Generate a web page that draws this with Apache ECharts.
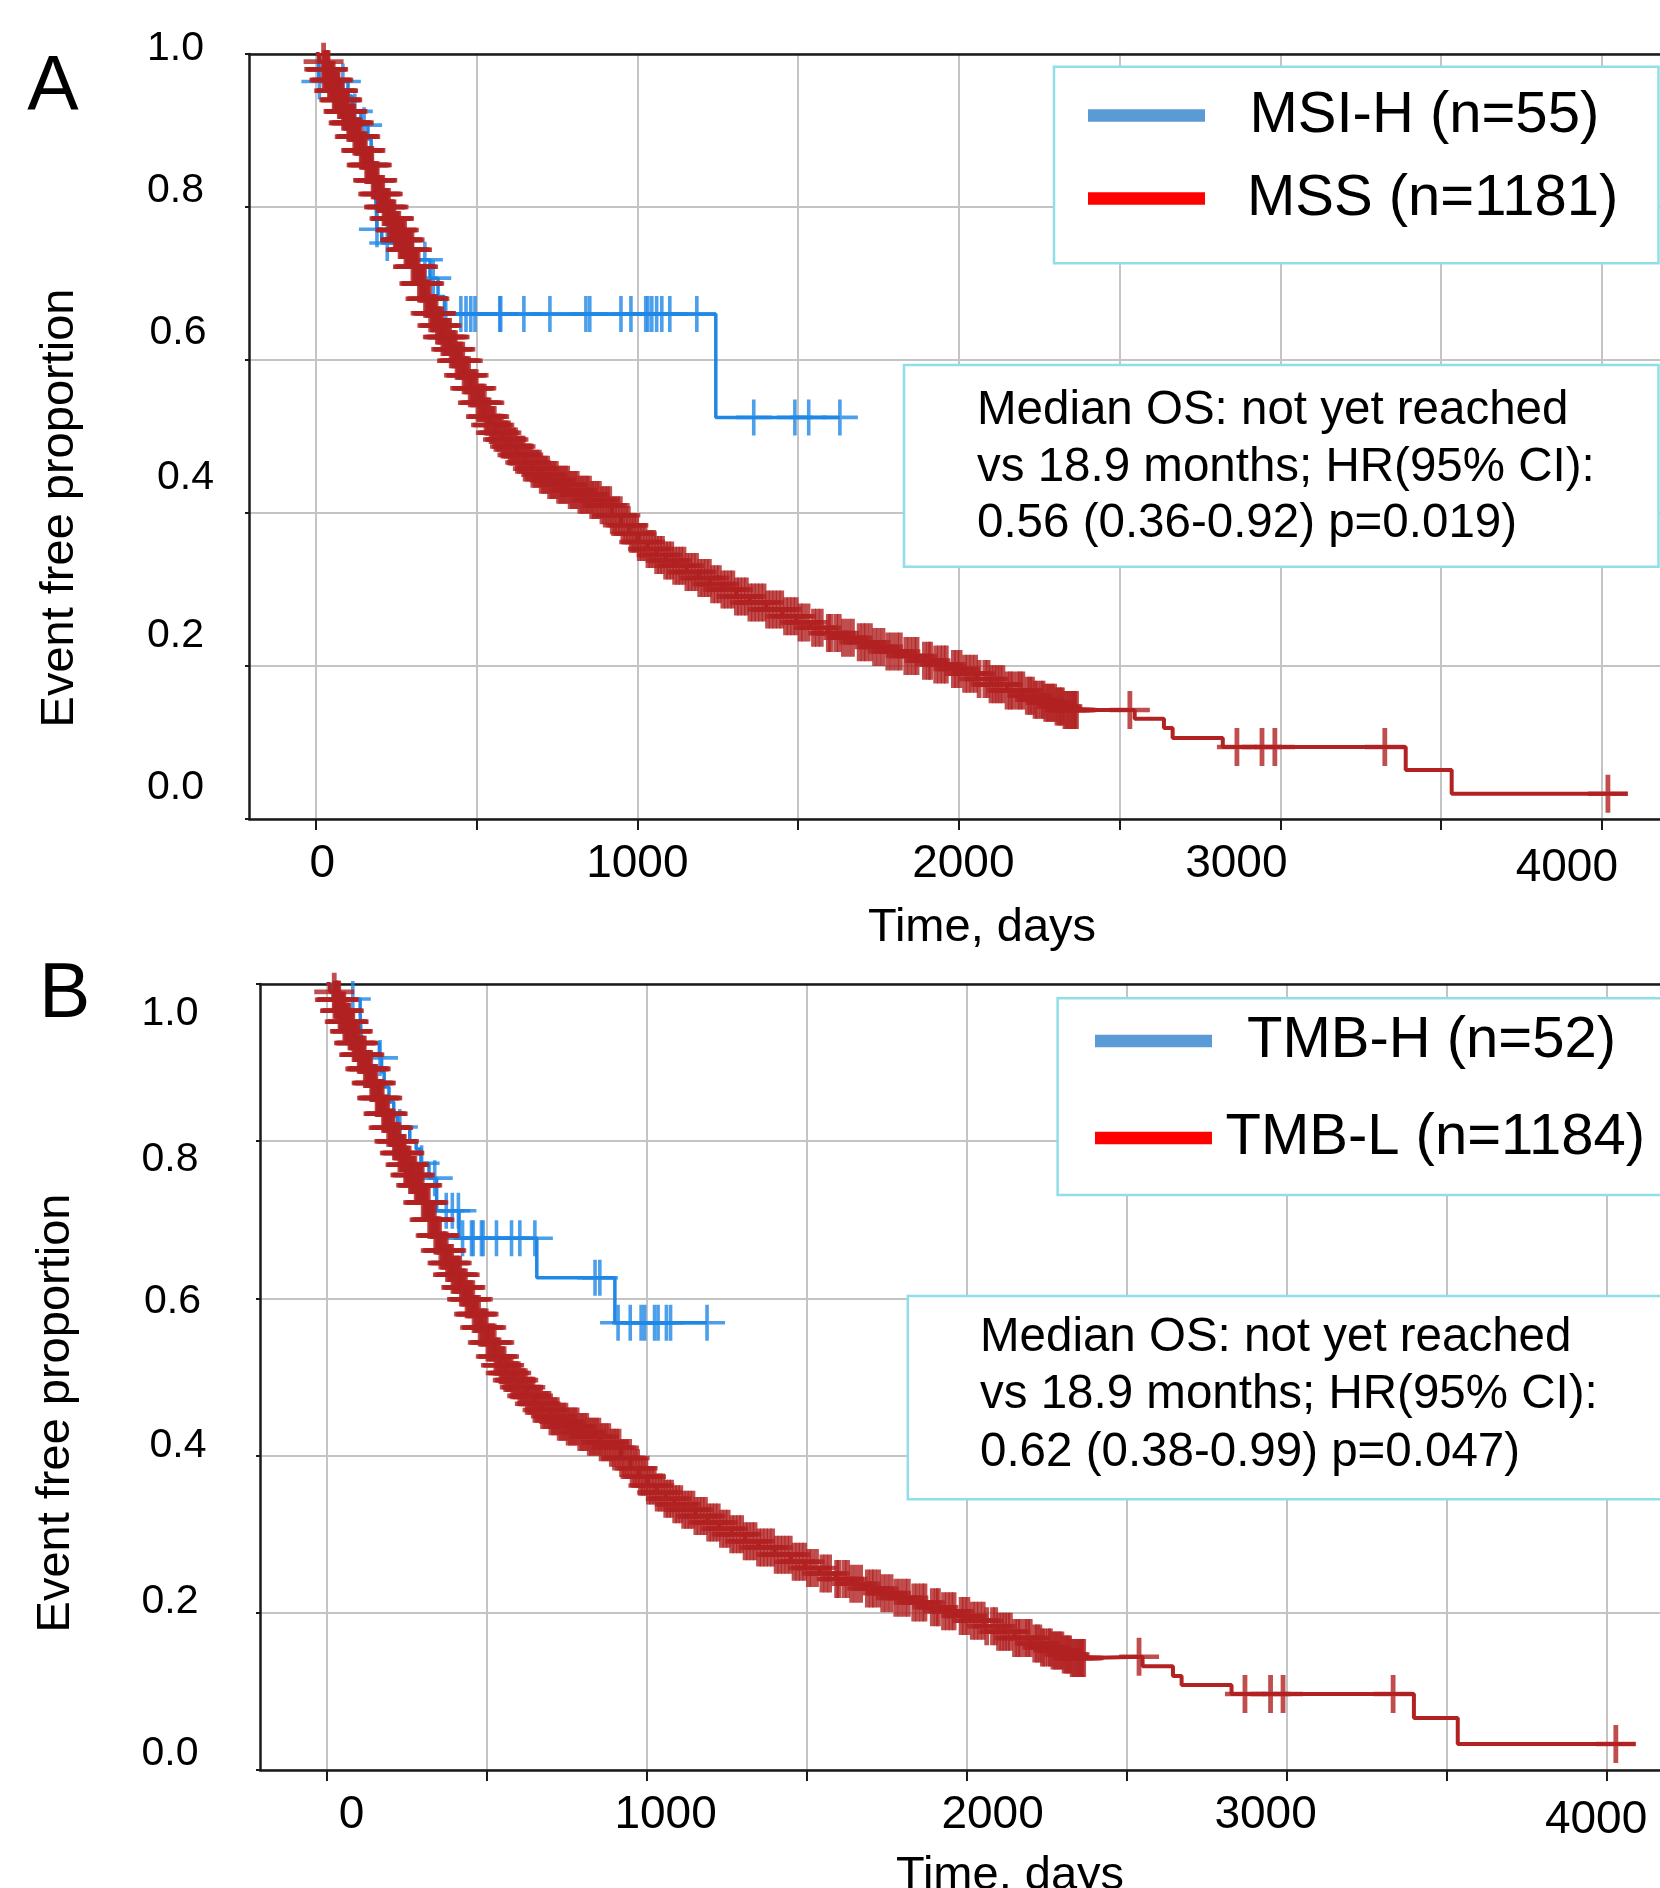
<!DOCTYPE html>
<html><head><meta charset="utf-8">
<script src="https://cdn.jsdelivr.net/npm/echarts@6/dist/echarts.min.js"></script>
<style>html,body{margin:0;padding:0;background:#fff}#c{width:1660px;height:1888px}</style>
</head><body><div id="c"></div>
<script>
// ---------------- DATA ----------------
const xTickDays  = [0, 500, 1000, 1500, 2000, 2500, 3000, 3500, 4000];
const xLabelDays = [0, 1000, 2000, 3000, 4000];

// Kaplan-Meier steps [day, event-free proportion] of the large group (dense part, same look in A and B)
const bandSteps = [[0,1.0],[10,0.99],[25,0.98],[40,0.966],[55,0.952],[70,0.94],[85,0.925],[100,0.91],[120,0.892],[141,0.874],[158,0.855],[175,0.835],[193,0.817],[211,0.80],[228,0.785],[245,0.77],[262,0.757],[280,0.744],[300,0.722],[320,0.70],[338,0.68],[355,0.661],[375,0.645],[395,0.63],[417,0.614],[439,0.599],[460,0.58],[480,0.563],[503,0.544],[525,0.526],[543,0.515],[560,0.505],[580,0.496],[600,0.487],[625,0.476],[650,0.466],[675,0.458],[700,0.45],[727,0.443],[754,0.437],[787,0.43],[820,0.424],[855,0.417],[889,0.41],[920,0.397],[950,0.384],[976,0.373],[1002,0.362],[1031,0.353],[1060,0.345],[1087,0.338],[1114,0.331],[1152,0.323],[1190,0.315],[1227,0.307],[1264,0.30],[1307,0.291],[1350,0.283],[1400,0.274],[1452,0.265],[1496,0.257],[1540,0.25],[1590,0.243],[1639,0.237],[1684,0.231],[1730,0.225],[1778,0.219],[1826,0.213],[1873,0.207],[1920,0.202],[1966,0.196],[2013,0.19],[2056,0.183],[2100,0.176],[2150,0.168],[2200,0.161],[2235,0.156],[2270,0.152],[2300,0.147],[2330,0.1425]];
const mssTailSteps  = [[2547,0.131],[2638,0.119],[2665,0.106],[2821,0.094],[3390,0.064],[3533,0.033],[4080,0.033]];
const tmblTailSteps = [[2373,0.144],[2550,0.132],[2645,0.1196],[2672,0.108],[2828,0.0967],[3398,0.066],[3535,0.033],[4090,0.033]];

// censored days of the large group (dense band)
const bandCensorDays = [26,33,38,45,51,57,64,69,76,82,89,95,102,108,115,121,128,134,141,147,154,161,167,174,181,188,194,201,208,215,222,229,236,243,250,258,265,272,280,287,295,302,310,318,326,333,341,349,357,366,374,382,391,399,408,416,425,434,443,452,461,470,480,489,499,509,519,529,539,550,560,571,582,593,604,615,627,639,651,663,675,688,701,714,727,741,755,769,783,798,813,828,843,858,874,890,906,922,938,955,972,989,1006,1024,1042,1060,1078,1097,1116,1135,1154,1174,1194,1214,1234,1255,1276,1297,1318,1339,1361,1383,1405,1427,1449,1472,1494,1517,1531,1560,1572,1601,1628,1641,1669,1690,1712,1738,1751,1779,1806,1818,1847,1870,1893,1912,1940,1961,1983,2004,2018,2040,2063,2081,2100,2119,2137,2150,2168,2182,2199,2213,2229,2244,2256,2270,2284,2298,2311,2322,2336,2349,2357,2366];
const bandCensorDaysMore = [24,30,36,42,48,54,60,67,73,79,86,92,98,105,112,118,125,131,138,144,151,158,164,171,178,185,191,198,205,212,219,226,233,240,247,254,262,269,276,284,291,299,306,314,322,330,337,345,353,362,370,378,387,395,404,412,421,430,439,448,457,466,475,485,494,504,514,524,534,545,555,566,577,588,599,610,621,633,645,657,669,682,695,708,721,734,748,762,776,791,806,821,836,851,866,882,898,914,930,947,964,981,998,1015,1033,1051,1069,1088,1107,1126,1145,1164,1184,1204,1224,1245,1266,1287,1308,1329,1350,1372,1394,1416,1438,1461,1483,1506,1548,1594,1617,1655,1702,1725,1764,1792,1835,1860,1905,1928,1951,1993,2029,2052,2091,2110,2128,2160,2191,2221,2237,2262,2277,2291,2305,2318,2330,2344,2361];
const mssTailCensorDays  = [2532,2865,2943,2983,3325,4019];
const tmblTailCensorDays = [2539,2870,2950,2989,3333,4029];

// MSI-H (n=55)
const msiSteps = [[0,1.0],[8,0.982],[10,0.964],[100,0.945],[112,0.925],[140,0.907],[162,0.889],[172,0.87],[178,0.851],[183,0.832],[186,0.813],[188,0.794],[190,0.771],[205,0.753],[300,0.731],[355,0.707],[380,0.683],[400,0.66],[1244,0.525],[1630,0.525]];
const msiCensorDays = [11,84,121,150,190,222,339,365,404,451,467,482,495,572,575,647,728,840,852,949,980,1026,1033,1045,1060,1076,1101,1185,1362,1490,1533,1630];

// TMB-H (n=52)
const tmbhSteps = [[0,1.0],[20,0.981],[105,0.962],[109,0.925],[165,0.906],[172,0.888],[180,0.869],[195,0.85],[210,0.832],[222,0.818],[260,0.8],[280,0.79],[295,0.772],[320,0.753],[344,0.7115],[414,0.6765],[657,0.6263],[901,0.569],[1189,0.569]];
const tmbhCensorDays = [31,82,167,229,297,338,374,393,412,425,453,458,484,489,531,578,604,651,839,854,911,949,983,994,1025,1036,1062,1075,1189];

const mssSteps  = bandSteps.concat(mssTailSteps);
const tmblSteps = bandSteps.concat(tmblTailSteps);
const mssCensorDays  = bandCensorDays.concat(bandCensorDaysMore, mssTailCensorDays);
const tmblCensorDays = bandCensorDays.concat(bandCensorDaysMore, tmblTailCensorDays);

const namesA = ['MSI-H (n=55)', 'MSS (n=1181)'];
const namesB = ['TMB-H (n=52)', 'TMB-L (n=1184)'];
const noteA = ['Median OS: not yet reached', 'vs 18.9 months; HR(95% CI):', '0.56 (0.36-0.92) p=0.019)'];
const noteB = ['Median OS: not yet reached', 'vs 18.9 months; HR(95% CI):', '0.62 (0.38-0.99) p=0.047)'];

// ---------------- helpers ----------------
function survAt(steps, t) { let s = steps[0][1]; for (const p of steps) { if (p[0] <= t) s = p[1]; else break; } return s; }
function censorPoints(steps, days) { return days.map(d => [d, survAt(steps, d)]); }

const FONT = "'Liberation Sans', Arial, Helvetica, sans-serif";
const BLUE = '#1f87e5', RED = '#b22222';
const PLUS = 'path://M-1,-10L1,-10L1,-1L10,-1L10,1L1,1L1,10L-1,10L-1,1L-10,1L-10,-1L-1,-1Z';
const PLUS_RED = 'path://M-1.2,-10L1.2,-10L1.2,-1.2L10,-1.2L10,1.2L1.2,1.2L1.2,10L-1.2,10L-1.2,1.2L-10,1.2L-10,-1.2L-1.2,-1.2Z';
const AXC = '#1a1a1a', GRIDC = '#c4c4c4';

function rich(map, size) { const r = {}; for (const k in map) r[k] = {fontSize: size, fontFamily: FONT, color: '#000', padding: map[k]}; return r; }
const richXA = rich({k0:[0,0,0,13], k1000:[0,0,0,0], k2000:[0,0,0,9], k3000:[0,88,0,0], k4000:[4,70,0,0]}, 46);
const richXB = rich({k0:[0,0,0,50], k1000:[0,0,0,38], k2000:[0,0,0,52], k3000:[0,42,0,0], k4000:[5,21,0,0]}, 46);
const richYA = rich({y10:[0,10,10,0], y8:[0,10,32,0], y6:[0,7.5,54,0], y4:[0,0,71,0], y2:[0,10,60,0], y0:[0,10,63,0]}, 41);
const richYB = rich({y10:[60,8,0,0], y8:[36,8,0,0], y6:[6,5.5,0,0], y4:[0,0,20,0], y2:[0,8,23,0], y0:[0,8,32,0]}, 41);

function xAxes(grid, min, max, rch, gap, pad) {
  return [{
    gridIndex: grid, type: 'value', min: min, max: max,
    axisLine: {show: true, onZero: false, lineStyle: {color: AXC, width: 2.5}},
    axisTick: {show: true, customValues: xTickDays, length: 11, lineStyle: {color: AXC, width: 2}},
    axisLabel: {customValues: xLabelDays, margin: 22, formatter: v => '{k' + v + '|' + v + '}', rich: rch, fontSize: 46, fontFamily: FONT, color: '#000'},
    splitLine: {show: true, lineStyle: {color: GRIDC, width: 2}},
    name: 'Time, days', nameLocation: 'middle', nameGap: gap,
    nameTextStyle: {fontSize: 47, fontFamily: FONT, color: '#000', padding: [0, 0, 0, pad]}
  }, {
    gridIndex: grid, type: 'value', position: 'top', min: min, max: max,
    axisLine: {show: true, onZero: false, lineStyle: {color: AXC, width: 2.5}},
    axisTick: {show: false}, axisLabel: {show: false}, splitLine: {show: false}
  }];
}
function yAxis(grid, rch, margin, gap, pad) {
  return {
    gridIndex: grid, type: 'value', min: 0, max: 1, interval: 0.2,
    axisLine: {show: true, onZero: false, lineStyle: {color: AXC, width: 2.5}},
    axisTick: {show: true, length: 4, lineStyle: {color: AXC, width: 2}},
    axisLabel: {margin: margin, formatter: v => '{y' + Math.round(v * 10) + '|' + v.toFixed(1) + '}', rich: rch, fontSize: 41, fontFamily: FONT, color: '#000'},
    splitLine: {show: true, lineStyle: {color: GRIDC, width: 2}},
    name: 'Event free proportion', nameLocation: 'middle', nameRotate: 90, nameGap: gap,
    nameTextStyle: {fontSize: 47, fontFamily: FONT, color: '#000', padding: [0, pad, 0, 0]}
  };
}
function kmSeries(names, bSteps, bDays, rSteps, rDays, xi, yi) {
  return [
    {name: names[0], type: 'line', step: 'end', xAxisIndex: xi, yAxisIndex: yi, data: bSteps, showSymbol: false, lineStyle: {color: BLUE, width: 3.5}, itemStyle: {color: BLUE}, z: 2},
    {name: names[0] + ' censored', type: 'scatter', xAxisIndex: xi, yAxisIndex: yi, data: censorPoints(bSteps, bDays), symbol: PLUS, symbolSize: 36, itemStyle: {color: BLUE}, z: 2},
    {name: names[1], type: 'line', step: 'end', xAxisIndex: xi, yAxisIndex: yi, data: rSteps, showSymbol: false, lineStyle: {color: RED, width: 4}, itemStyle: {color: RED}, z: 3},
    {name: names[1] + ' censored', type: 'scatter', xAxisIndex: xi, yAxisIndex: yi, data: censorPoints(rSteps, rDays), symbol: PLUS_RED, symbolSize: [40, 38], itemStyle: {color: RED}, z: 3}
  ];
}
function legend(names, left, top, gap, pads) {
  return {
    left: left, top: top, orient: 'vertical', itemWidth: 117, itemHeight: 12.5, itemGap: gap, icon: 'rect', padding: 0, z: 200, selectedMode: false,
    textStyle: {fontSize: 58, fontFamily: FONT, color: '#000', lineHeight: 64},
    data: [
      {name: names[0], itemStyle: {color: '#5b9bd5'}, textStyle: {padding: [0, 0, 0, pads[0]]}},
      {name: names[1], itemStyle: {color: '#ff0000'}, textStyle: {padding: [0, 0, 0, pads[1]]}}
    ]
  };
}
function box(x, y, w, h) { return {type: 'rect', z: 100, shape: {x: x, y: y, width: w, height: h}, style: {fill: '#fff', stroke: '#8fdfea', lineWidth: 2.5}}; }
function note(lines, x, y, lh) { return {type: 'text', z: 101, x: x, y: y, style: {text: lines.join('\n'), fontSize: 47.5, fontFamily: FONT, fill: '#000', lineHeight: lh, verticalAlign: 'top', align: 'left'}}; }
function panelLabel(t, x, y) { return {type: 'text', z: 101, x: x, y: y, style: {text: t, fontSize: 77, fontFamily: FONT, fill: '#000', align: 'center', verticalAlign: 'middle'}}; }

const chart = echarts.init(document.getElementById('c'), null, {renderer: 'canvas', width: 1660, height: 1888});
chart.setOption({
  animation: false,
  backgroundColor: '#fff',
  grid: [
    {left: 249, top: 54, width: 1411, height: 765, containLabel: false, outerBoundsMode: 'none'},
    {left: 260, top: 984, width: 1400, height: 786, containLabel: false, outerBoundsMode: 'none'}
  ],
  xAxis: xAxes(0, -208, 4181, richXA, 86, 55).concat(xAxes(1, -208, 4167, richXB, 83, 100)),
  yAxis: [yAxis(0, richYA, 35, 165, 143), yAxis(1, richYB, 53.5, 180, 72)],
  legend: [legend(namesA, 1088, 83.5, 19, [39.5, 37]), legend(namesB, 1095, 1009, 33, [30, 8.5])],
  graphic: [
    box(1054, 66.7, 604.5, 196.6),
    box(904, 365, 754.5, 201.7),
    note(noteA, 977, 382.7, 56.5),
    box(1057.6, 998.3, 604, 196.7),
    box(907.8, 1296, 754, 203.3),
    note(noteB, 980, 1308.7, 57.5),
    panelLabel('A', 53, 88.5),
    panelLabel('B', 64.7, 995.7)
  ],
  series: kmSeries(namesA, msiSteps, msiCensorDays, mssSteps, mssCensorDays, 0, 0)
    .concat(kmSeries(namesB, tmbhSteps, tmbhCensorDays, tmblSteps, tmblCensorDays, 2, 1))
});
</script>
</body></html>
